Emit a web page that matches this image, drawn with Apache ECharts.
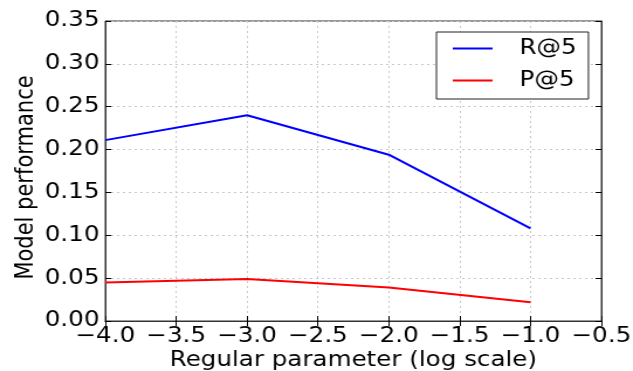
<!DOCTYPE html>
<html>
<head>
<meta charset="utf-8">
<script src="https://cdn.jsdelivr.net/npm/echarts@6/dist/echarts.min.js"></script>
<style>
  html, body { margin: 0; padding: 0; background: #fff; overflow: hidden; }
  /* the source figure is stretched sideways, so the chart is drawn narrower and widened */
  #main { width: 541px; height: 371px; transform: scaleX(1.17); transform-origin: 0 0; }
</style>
</head>
<body>
<div id="main"></div>
<script>
// regular parameter (log10) and the two scores
var logParams = [-4, -3, -2, -1];
var recallAt5 = [0.211, 0.240, 0.194, 0.108];
var precisionAt5 = [0.045, 0.049, 0.039, 0.022];
var seriesNames = ['R@5', 'P@5'];

function pairs(xs, ys) {
    var out = [];
    for (var i = 0; i < xs.length; i++) out.push([xs[i], ys[i]]);
    return out;
}

var font = 'DejaVu Sans';
var fs = 21;
var minus = function (v) { return String(v).replace('-', '\u2212'); };

var main = document.getElementById('main');
var myChart = echarts.init(main, null, { renderer: 'canvas' });

var gridLine = { show: true, lineStyle: { color: '#c8c8c8', type: [2, 3], width: 1 } };
var tickIn = { show: true, inside: true, length: 5, lineStyle: { color: '#000' } };

var option = {
    animation: false,
    textStyle: { fontFamily: font },
    grid: {
        left: 90, right: 27, top: 21, bottom: 50,
        outerBoundsMode: 'none', containLabel: false,
        show: true, borderColor: '#333', borderWidth: 1, backgroundColor: '#fff'
    },
    legend: {
        orient: 'vertical',
        left: 373, top: 32,
        padding: [6, 10, 8, 14],
        itemGap: 11,
        itemWidth: 34, itemHeight: 2,
        icon: 'rect',
        borderColor: '#222', borderWidth: 1,
        backgroundColor: '#fff',
        textStyle: { fontFamily: font, fontSize: fs, color: '#000', padding: [0, 0, 0, 18] },
        data: seriesNames
    },
    xAxis: [{
        type: 'value', min: -4, max: -0.5, interval: 0.5,
        name: 'Regular parameter (log scale)', nameLocation: 'middle', nameGap: 29,
        nameMoveOverlap: false,
        nameTextStyle: { fontFamily: font, fontSize: fs, color: '#000' },
        axisLine: { show: true, lineStyle: { color: '#333' } },
        axisTick: tickIn,
        axisLabel: { fontFamily: font, fontSize: fs, color: '#000', margin: 5,
            formatter: function (v) { return minus(v.toFixed(1)); } },
        splitLine: gridLine
    }, {
        type: 'value', position: 'top', min: -4, max: -0.5, interval: 0.5,
        axisLine: { show: true, lineStyle: { color: '#333' } },
        axisTick: tickIn, axisLabel: { show: false }, splitLine: { show: false }
    }],
    yAxis: [{
        type: 'value', min: 0, max: 0.35, interval: 0.05,
        name: 'Model performance', nameLocation: 'middle', nameGap: 57,
        nameMoveOverlap: false,
        nameTextStyle: { fontFamily: font, fontSize: fs, color: '#000', padding: [0, 13, 0, 0] },
        axisLine: { show: true, lineStyle: { color: '#333' } },
        axisTick: tickIn,
        axisLabel: { fontFamily: font, fontSize: fs, color: '#000', margin: 5,
            formatter: function (v) { return v.toFixed(2); } },
        splitLine: gridLine
    }, {
        type: 'value', position: 'right', min: 0, max: 0.35, interval: 0.05,
        axisLine: { show: true, lineStyle: { color: '#333' } },
        axisTick: tickIn, axisLabel: { show: false }, splitLine: { show: false }
    }],
    series: [{
        name: seriesNames[0], type: 'line', symbol: 'none',
        lineStyle: { color: '#0000ff', width: 2 }, itemStyle: { color: '#0000ff' },
        data: pairs(logParams, recallAt5)
    }, {
        name: seriesNames[1], type: 'line', symbol: 'none',
        lineStyle: { color: '#ff0000', width: 2 }, itemStyle: { color: '#ff0000' },
        data: pairs(logParams, precisionAt5)
    }]
};

myChart.setOption(option);
</script>
</body>
</html>
